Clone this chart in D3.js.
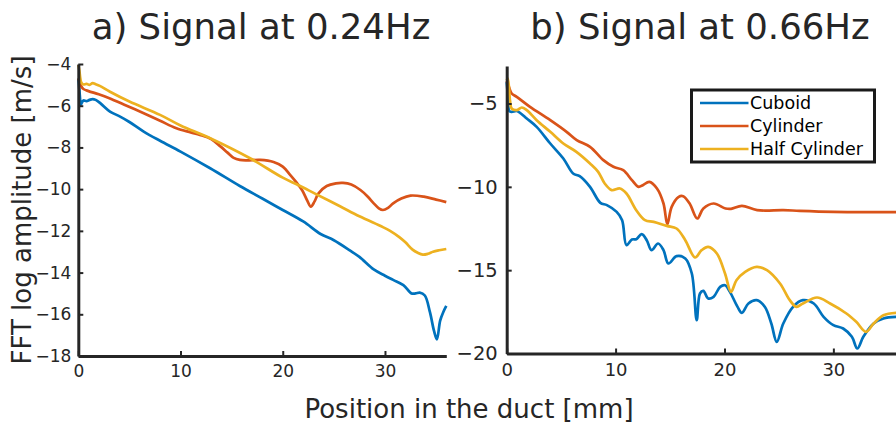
<!DOCTYPE html>
<html>
<head>
<meta charset="utf-8">
<script src="https://cdn.jsdelivr.net/npm/d3@7"></script>
<style>
  html, body { margin: 0; padding: 0; background: #fff; }
  svg { display: block; font-family: "DejaVu Sans", sans-serif; }
</style>
</head>
<body>
<svg id="chart" width="896" height="426"></svg>
<script>
// ---- data: FFT log amplitude along the duct ----
const seriesNames = ["Cuboid", "Cylinder", "Half Cylinder"];
const seriesColors = ["#0072BD", "#D95319", "#EDB120"];

// a) 0.24 Hz
const posA_cuboid = [0, 0.1, 0.2, 0.25, 0.35, 0.5, 0.8, 1.1, 1.4, 1.7, 2.2, 3.1, 4, 5, 6.4, 8, 10, 12.9, 15.8, 18, 20, 22, 23.7, 25, 26.6, 27.5, 28.9, 30, 30.8, 31.8, 32.6, 33, 33.4, 33.9, 34.4, 34.8, 35.08, 35.4, 35.7, 36];
const ampA_cuboid = [-4.7, -5.2, -5.8, -5.95, -5.85, -5.75, -5.78, -5.72, -5.68, -5.72, -5.9, -6.28, -6.5, -6.78, -7.24, -7.68, -8.2, -9.0, -9.85, -10.45, -11.0, -11.55, -12.15, -12.45, -12.95, -13.25, -13.85, -14.15, -14.35, -14.6, -15.0, -15.0, -14.96, -15.1, -15.9, -16.8, -17.2, -16.3, -15.9, -15.6];

const posA_cylinder = [0, 0.15, 0.3, 0.5, 1, 2, 3.1, 4.5, 6.4, 8, 9.6, 11, 11.9, 13, 13.9, 14.6, 15.2, 15.8, 16.5, 17.8, 19.1, 20, 20.7, 21.3, 21.9, 22.4, 22.75, 23.1, 23.5, 24.3, 25.2, 25.9, 26.7, 27.6, 28.3, 28.9, 29.4, 29.8, 30.3, 30.8, 31.6, 32.5, 33.8, 35, 36];
const ampA_cylinder = [-4.69, -4.9, -5.08, -5.2, -5.3, -5.45, -5.65, -5.95, -6.36, -6.72, -7.08, -7.28, -7.4, -7.6, -7.95, -8.25, -8.5, -8.6, -8.62, -8.6, -8.7, -8.92, -9.3, -9.65, -10.05, -10.55, -10.84, -10.6, -10.2, -9.85, -9.72, -9.7, -9.78, -10.04, -10.35, -10.68, -10.92, -11.0, -10.9, -10.68, -10.45, -10.31, -10.36, -10.5, -10.62];

const posA_half = [0, 0.1, 0.2, 0.3, 0.5, 0.8, 1.1, 1.4, 1.7, 2.1, 3.1, 5, 8, 10, 12.9, 16.8, 20, 21.5, 23.3, 25.6, 27.5, 29.8, 30.5, 31.4, 32.0, 32.7, 33.2, 33.7, 34.2, 34.7, 35.3, 36];
const ampA_half = [-4.05, -4.3, -4.7, -4.9, -4.98, -4.95, -5.0, -4.92, -4.97, -5.05, -5.33, -5.8, -6.44, -6.95, -7.56, -8.52, -9.45, -9.8, -10.25, -10.82, -11.3, -11.82, -12.0, -12.3, -12.55, -12.9, -13.05, -13.14, -13.1, -13.0, -12.93, -12.87];

// b) 0.66 Hz
const posB_cuboid = [0, 0.12, 0.24, 0.46, 0.92, 1.3, 1.84, 2.75, 4.0, 5.2, 6.1, 6.7, 7.65, 8.6, 9.2, 10.1, 10.6, 11.0, 11.5, 11.9, 12.4, 12.86, 13.3, 13.9, 14.4, 14.85, 15.6, 16.4, 17.0, 17.45, 17.75, 18.06, 18.5, 19.0, 19.6, 20.05, 20.5, 21.2, 21.6, 22.2, 22.96, 23.7, 24.3, 24.8, 25.4, 26.3, 27.2, 28.2, 29.1, 30.0, 30.9, 31.7, 32.2, 32.75, 33.7, 34.6, 36];
const ampB_cuboid = [-3.72, -4.6, -5.45, -5.5, -5.45, -5.6, -5.9, -6.4, -7.4, -8.3, -9.2, -9.36, -10.0, -10.96, -11.1, -11.5, -12.0, -13.5, -13.16, -13.14, -12.84, -13.2, -13.8, -13.4, -13.8, -14.6, -14.16, -14.3, -15.2, -18.0, -16.4, -16.24, -16.7, -16.6, -16.0, -15.9, -16.3, -17.2, -17.56, -17.0, -16.8, -17.2, -18.2, -19.3, -18.2, -17.2, -16.8, -17.0, -17.8, -18.3, -18.5, -19.0, -19.7, -19.0, -18.2, -17.9, -17.8];

const posB_cylinder = [0, 0.2, 0.46, 0.92, 2.14, 4.0, 5.5, 6.43, 7.65, 8.88, 9.8, 10.7, 11.5, 12.1, 12.5, 13.1, 13.8, 14.4, 14.75, 15.15, 15.8, 16.2, 16.8, 17.5, 18.06, 19.0, 20.1, 20.6, 21.6, 23.0, 25.4, 26.9, 30, 33, 36];
const ampB_cylinder = [-3.65, -4.0, -4.4, -4.6, -5.2, -6.0, -6.7, -7.2, -7.6, -8.4, -8.8, -9.0, -9.6, -10.0, -9.9, -9.7, -10.1, -11.0, -12.24, -11.2, -10.6, -10.56, -11.0, -11.9, -11.3, -11.0, -11.3, -11.32, -11.14, -11.4, -11.4, -11.44, -11.5, -11.52, -11.52];

const posB_half = [0, 0.1, 0.3, 0.45, 0.92, 1.38, 1.84, 2.75, 4.0, 5.2, 6.4, 7.65, 8.4, 9.0, 9.64, 10.4, 11.0, 11.9, 12.7, 13.5, 14.7, 15.6, 16.4, 17.3, 17.9, 18.5, 19.3, 20.05, 20.6, 21.1, 21.9, 22.96, 23.9, 25.1, 26.0, 26.6, 27.2, 28.5, 29.7, 31.2, 32.1, 33.0, 33.7, 34.6, 36];
const ampB_half = [-3.6, -3.5, -4.8, -5.3, -5.4, -5.24, -5.4, -6.0, -6.7, -7.4, -7.9, -8.6, -9.1, -9.8, -10.2, -10.1, -10.4, -11.4, -12.0, -12.1, -12.34, -12.5, -13.2, -14.24, -13.8, -13.6, -14.0, -15.2, -16.3, -15.6, -15.1, -14.8, -15.0, -15.8, -16.8, -17.2, -17.0, -16.64, -17.0, -17.6, -18.1, -18.7, -18.2, -17.7, -17.55];

const titleA = "a) Signal at 0.24Hz";
const titleB = "b) Signal at 0.66Hz";
const xTicks = [0, 10, 20, 30];
const yTicksA = [-18, -16, -14, -12, -10, -8, -6, -4];
const yTicksB = [-20, -15, -10, -5];
const xLabel = "Position in the duct [mm]";
const yLabel = "FFT log amplitude [m/s]";

// ---- drawing ----
const svg = d3.select("#chart");
const ink = "#262626";

function zip(xs, ys) { return xs.map((x, i) => [x, ys[i]]); }

function panel(cfg) {
  const x = d3.scaleLinear().domain([0, 36]).range(cfg.xRange);
  const y = d3.scaleLinear().domain(cfg.yDomain).range(cfg.yRange);
  const g = svg.append("g");

  const line = d3.line()
    .x(d => x(d[0])).y(d => y(d[1]))
    .curve(d3.curveCatmullRom.alpha(0.5));

  cfg.series.forEach((s, i) => {
    g.append("path")
      .datum(zip(s[0], s[1]))
      .attr("fill", "none")
      .attr("stroke", seriesColors[i])
      .attr("stroke-width", 2.7)
      .attr("stroke-linejoin", "round")
      .attr("d", line);
  });

  const xAxis = g.append("g")
    .attr("transform", `translate(0,${cfg.yRange[0]})`)
    .call(d3.axisBottom(x).tickValues(xTicks).tickSizeInner(-5).tickSizeOuter(0).tickPadding(cfg.xPad));
  const yAxis = g.append("g")
    .attr("transform", `translate(${cfg.xRange[0]},0)`)
    .call(d3.axisLeft(y).tickValues(cfg.yTicks).tickSizeInner(-5).tickSizeOuter(0).tickPadding(cfg.yPad));

  [xAxis, yAxis].forEach(a => {
    a.select(".domain").attr("stroke", ink).attr("stroke-width", 3);
    a.selectAll(".tick line").attr("stroke", ink).attr("stroke-width", 2);
    a.selectAll(".tick text").attr("fill", ink).attr("font-family", "DejaVu Sans");
  });
  xAxis.selectAll(".tick text").attr("font-size", cfg.xFont);
  yAxis.selectAll(".tick text").attr("font-size", cfg.yFont);

  svg.append("text")
    .attr("x", cfg.titleX)
    .attr("y", 39)
    .attr("text-anchor", "middle")
    .attr("font-size", 35.5)
    .attr("fill", ink)
    .text(cfg.title);

  return { x, y };
}

panel({
  xRange: [78.3, 446.3], yDomain: [-18, -4], yRange: [356, 64],
  yTicks: yTicksA, title: titleA, titleX: 261, xFont: 17, yFont: 17, xPad: 9, yPad: 7,
  series: [[posA_cuboid, ampA_cuboid], [posA_cylinder, ampA_cylinder], [posA_half, ampA_half]]
});

panel({
  xRange: [506.7, 898.7], yDomain: [-20, -2.75], yRange: [353.5, 66],
  yTicks: yTicksB, title: titleB, titleX: 700, xFont: 18, yFont: 19.5, xPad: 10, yPad: 9,
  series: [[posB_cuboid, ampB_cuboid], [posB_cylinder, ampB_cylinder], [posB_half, ampB_half]]
});

// shared axis labels
svg.append("text")
  .attr("x", 469).attr("y", 418)
  .attr("text-anchor", "middle")
  .attr("font-size", 26)
  .attr("fill", ink)
  .text(xLabel);

svg.append("text")
  .attr("transform", "translate(31,210) rotate(-90)")
  .attr("text-anchor", "middle")
  .attr("font-size", 26)
  .attr("fill", ink)
  .text(yLabel);

// legend
const legend = svg.append("g").attr("transform", "translate(691.5,90)");
legend.append("rect")
  .attr("width", 183).attr("height", 72)
  .attr("fill", "#fff").attr("stroke", "#1a1a1a").attr("stroke-width", 3);
seriesNames.forEach((name, i) => {
  const yy = 13 + i * 23;
  legend.append("line")
    .attr("x1", 8.5).attr("x2", 57).attr("y1", yy).attr("y2", yy)
    .attr("stroke", seriesColors[i]).attr("stroke-width", 2.7);
  legend.append("text")
    .attr("x", 58.5).attr("y", yy).attr("dy", "0.36em")
    .attr("font-size", 17.5).attr("fill", "#000")
    .text(name);
});
</script>
</body>
</html>
